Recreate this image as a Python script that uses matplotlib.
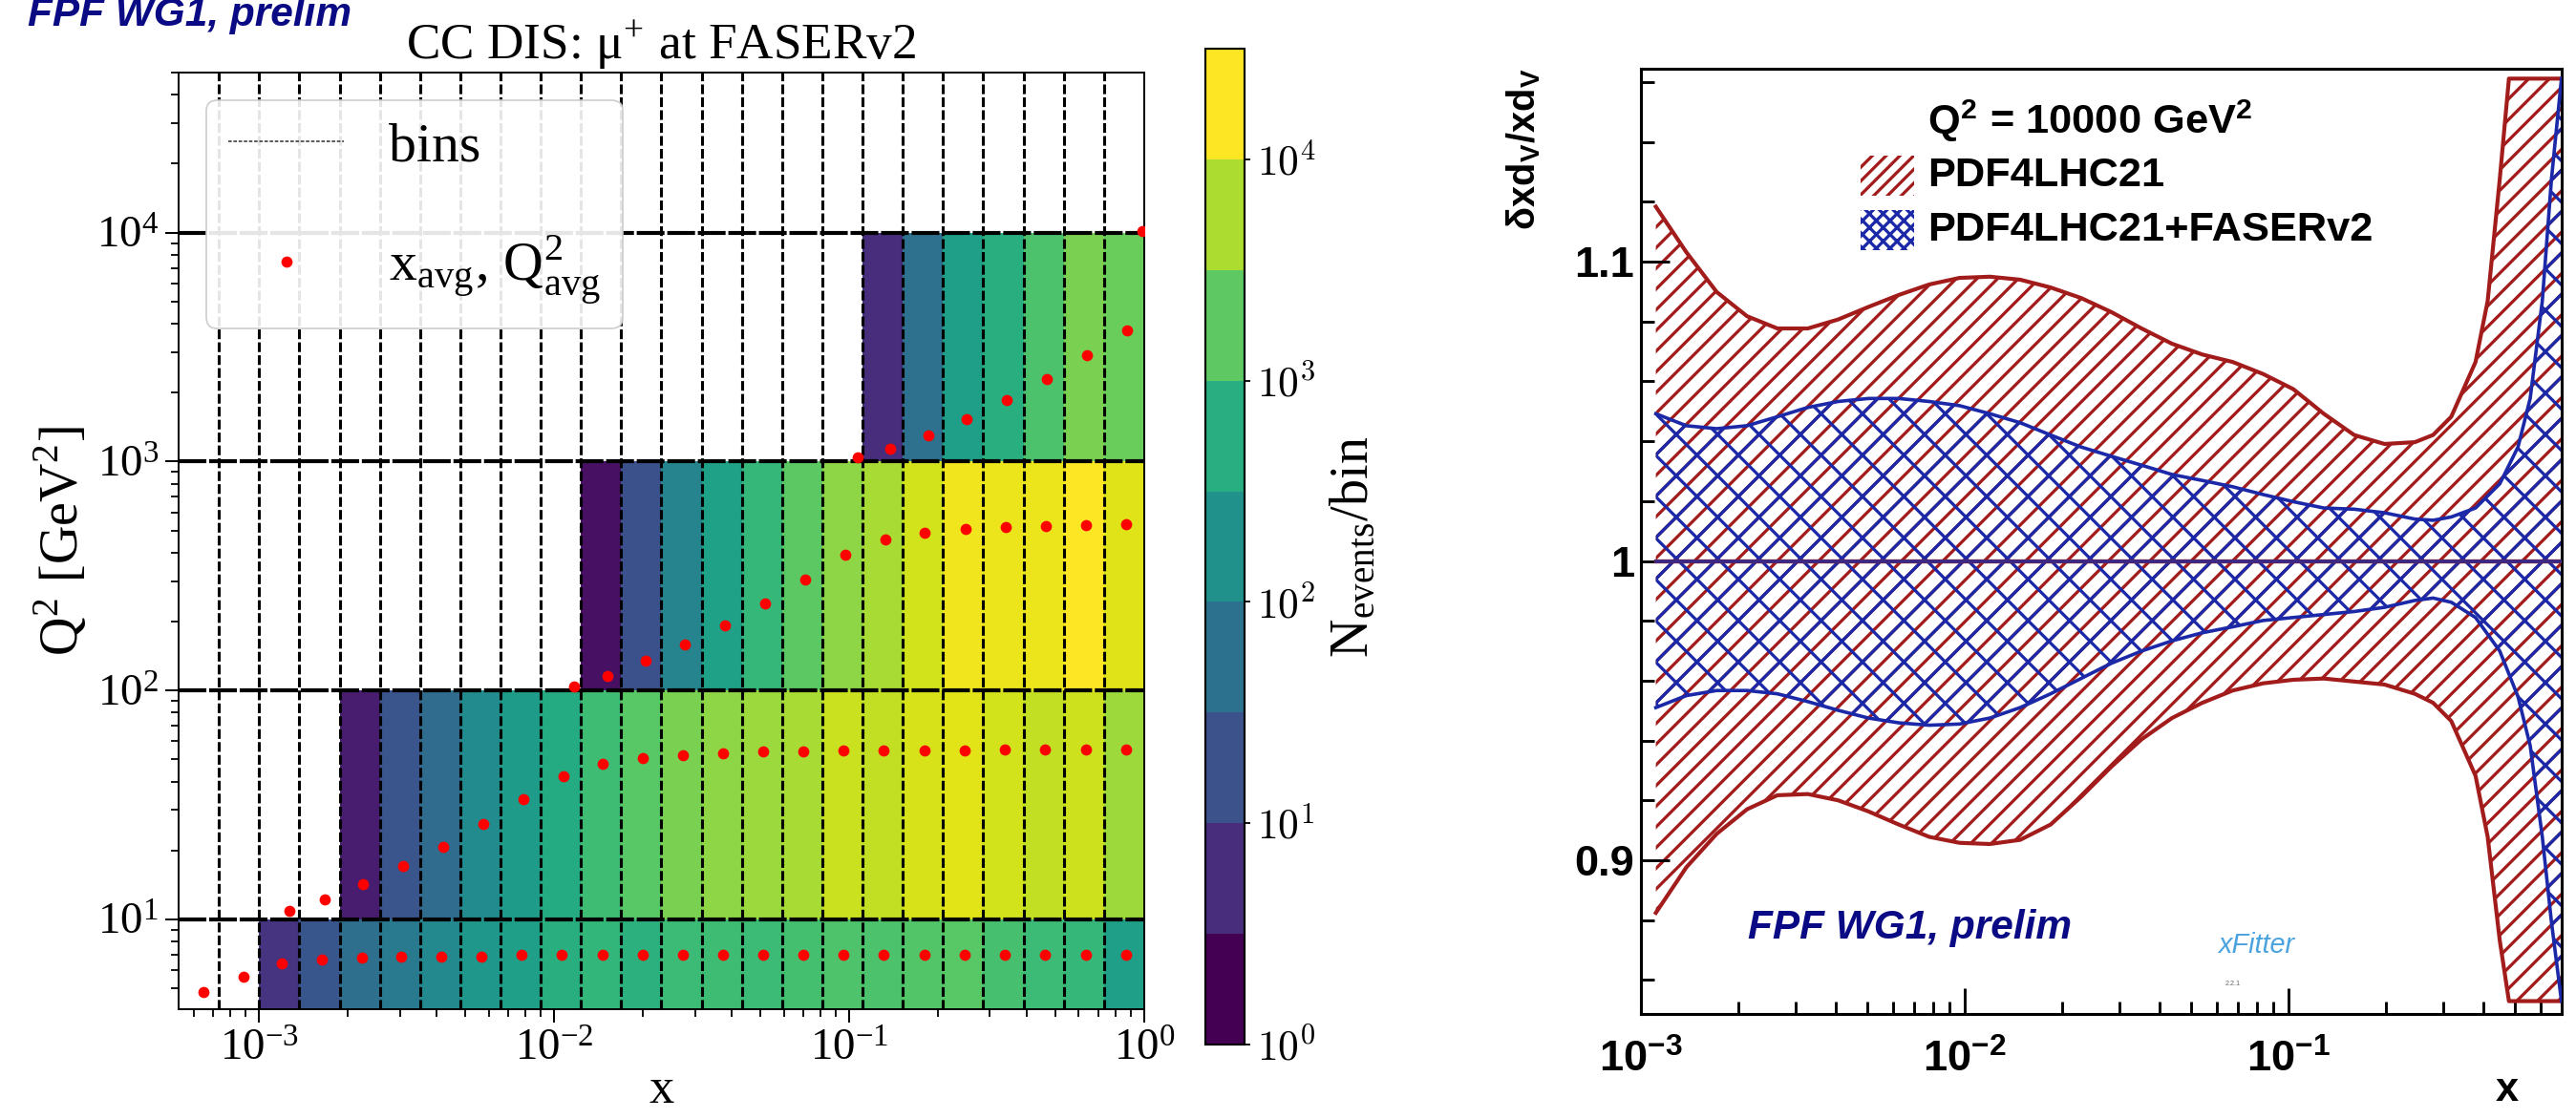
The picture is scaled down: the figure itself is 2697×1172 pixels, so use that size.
import numpy as np
import matplotlib
matplotlib.use("Agg")
import matplotlib.pyplot as plt
from matplotlib.colors import LogNorm
from matplotlib.cm import ScalarMappable
from matplotlib.lines import Line2D
from matplotlib.patches import Rectangle
from matplotlib.ticker import NullFormatter, MultipleLocator

DPI = 130
W, H = 2697, 1172

plt.rcParams["font.family"] = "Liberation Serif"
plt.rcParams["mathtext.fontset"] = "stix"
plt.rcParams["hatch.linewidth"] = 1.8

# ---------------- left panel: CC DIS binning ----------------
X_EDGES = [5.337e-4, 7.305e-4, 1.0e-3, 1.369e-3, 1.874e-3, 2.565e-3, 3.511e-3,
           4.806e-3, 6.579e-3, 9.006e-3, 1.2328e-2, 1.6876e-2, 2.310e-2,
           3.162e-2, 4.329e-2, 5.926e-2, 8.111e-2, 0.1110, 0.1520, 0.2081,
           0.2848, 0.3899, 0.5337, 0.7305, 1.0]
Q2_EDGES = [4, 10, 100, 1000, 10000]

# first filled x-bin of every Q2 row, then events per bin
ROW_START = [2, 4, 10, 17]
N_Q2_4_10 = [4.7, 16, 42, 70, 130, 243, 331, 684, 933, 759, 1148, 1274, 1148,
             1413, 1738, 1650, 1928, 2138, 1487, 1148, 983, 331]
N_Q2_10_100 = [2.3, 15, 38, 145, 299, 556, 1274, 2138, 3981, 5433, 6683, 8222,
               13800, 12450, 16980, 19840, 15310, 12450, 14540, 7040]
N_Q2_100_1000 = [1.5, 13, 106, 367, 983, 2371, 5433, 8222, 15310, 25700, 23170,
                 23170, 31000, 18840]
N_Q2_1000_10000 = [3.8, 46, 331, 684, 1650, 3981, 2917]

XAVG_ROW1 = [6.49e-4, 8.88e-4, 1.194e-3, 1.633e-3, 2.228e-3, 3.039e-3, 4.146e-3,
             5.67e-3, 7.75e-3, 1.063e-2, 1.458e-2, 2.002e-2, 2.738e-2, 3.746e-2,
             5.123e-2, 7.007e-2, 9.58e-2, 0.1310, 0.1797, 0.2458, 0.3377, 0.4619,
             0.6336, 0.8662]
QAVG_ROW1 = [4.8, 5.6, 6.4, 6.7, 6.8, 6.9, 6.9, 6.9, 7.0, 7.0, 7.0, 7.0, 7.0, 7.0,
             7.0, 7.0, 7.0, 7.0, 7.0, 7.0, 7.0, 7.0, 7.0, 7.0]
XAVG_ROW2 = [1.270e-3, 1.673e-3, 2.249e-3, 3.083e-3, 4.199e-3, 5.754e-3, 7.85e-3,
             1.074e-2, 1.461e-2, 2.002e-2, 2.738e-2, 3.746e-2, 5.123e-2, 7.007e-2,
             9.58e-2, 0.1310, 0.1797, 0.2458, 0.3377, 0.4619, 0.6336, 0.8662]
QAVG_ROW2 = [10.9, 12.2, 14.2, 17.1, 20.8, 26.1, 33.4, 42.3, 47.9, 50.6, 52.2,
             53.1, 53.9, 54.1, 54.5, 54.6, 54.8, 54.8, 55.0, 55.0, 55.0, 55.0]
XAVG_ROW3 = [1.164e-2, 1.517e-2, 2.043e-2, 2.783e-2, 3.789e-2, 5.185e-2, 7.09e-2,
             9.70e-2, 0.1327, 0.1806, 0.2472, 0.3381, 0.4628, 0.6327, 0.8662]
QAVG_ROW3 = [104, 116, 135, 158, 192, 240, 304, 390, 456, 487, 505, 515, 521,
             526, 530]
XAVG_ROW4 = [0.1070, 0.1380, 0.1852, 0.2508, 0.3415, 0.4674, 0.6389, 0.8747, 0.985]
QAVG_ROW4 = [1040, 1135, 1300, 1530, 1850, 2300, 2900, 3730, 10140]

CB_TICKS = [1, 10, 100, 1000, 10000]

# ---------------- right panel: dV uncertainty bands ----------------
RED_X = [1.112e-3, 1.381e-3, 1.714e-3, 2.127e-3, 2.640e-3, 3.277e-3, 4.066e-3,
         5.045e-3, 6.261e-3, 7.772e-3, 9.645e-3, 1.1967e-2, 1.485e-2, 1.843e-2,
         2.287e-2, 2.838e-2, 3.522e-2, 4.371e-2, 5.425e-2, 6.732e-2, 8.354e-2,
         0.1037, 0.1287, 0.1597, 0.1982, 0.2460, 0.2800, 0.3187, 0.3788, 0.4129,
         0.4500, 0.4803, 0.698]
RED_UP = [1.1184, 1.1032, 1.0899, 1.0818, 1.0777, 1.0777, 1.0807, 1.0849, 1.0889,
          1.0924, 1.0946, 1.0950, 1.0940, 1.0914, 1.0879, 1.0832, 1.0777, 1.0726,
          1.0690, 1.0665, 1.0625, 1.0574, 1.0492, 1.0421, 1.0391, 1.0397, 1.0421,
          1.0482, 1.0665, 1.0869, 1.1276, 1.1612, 1.1612]
RED_LO = [0.8824, 0.8976, 0.9088, 0.9170, 0.9217, 0.9221, 0.9200, 0.9163, 0.9119,
          0.9078, 0.9058, 0.9054, 0.9068, 0.9119, 0.9211, 0.9312, 0.9404, 0.9475,
          0.9526, 0.9567, 0.9591, 0.9603, 0.9607, 0.9597, 0.9587, 0.9556, 0.9526,
          0.9465, 0.9282, 0.9078, 0.8732, 0.8529, 0.8529]
BLUE_X = [1.112e-3, 1.381e-3, 1.714e-3, 2.127e-3, 2.640e-3, 3.277e-3, 4.066e-3,
          5.045e-3, 6.261e-3, 7.772e-3, 9.645e-3, 1.1967e-2, 1.485e-2, 1.843e-2,
          2.287e-2, 2.838e-2, 3.522e-2, 4.371e-2, 5.425e-2, 6.732e-2, 8.354e-2,
          0.1037, 0.1287, 0.1597, 0.1982, 0.2460, 0.2800, 0.3187, 0.3788, 0.4500,
          0.5125, 0.5587, 0.6091, 0.6500, 0.698]
BLUE_UP = [1.0492, 1.0452, 1.0442, 1.0452, 1.0482, 1.0513, 1.0533, 1.0543, 1.0543,
           1.0533, 1.0519, 1.0492, 1.0462, 1.0421, 1.0381, 1.0350, 1.0320, 1.0289,
           1.0269, 1.0248, 1.0222, 1.0198, 1.0177, 1.0173, 1.0161, 1.0140, 1.0136,
           1.0147, 1.0177, 1.0258, 1.0381, 1.0543, 1.0869, 1.1276, 1.1612]
BLUE_LO = [0.9510, 0.9550, 0.9567, 0.9567, 0.9556, 0.9530, 0.9501, 0.9475, 0.9459,
           0.9451, 0.9455, 0.9475, 0.9510, 0.9556, 0.9607, 0.9658, 0.9699, 0.9733,
           0.9760, 0.9780, 0.9801, 0.9811, 0.9821, 0.9831, 0.9845, 0.9868, 0.9876,
           0.9862, 0.9811, 0.9699, 0.9546, 0.9383, 0.9078, 0.8793, 0.8529]

RED = "#a31c1c"
BLUE = "#1b28a8"
NAVY = "#0a0a85"
SANS = "Liberation Sans"


def fig_rect(x0, y0, x1, y1):
    # pixel box (top-left origin) -> figure fraction [left, bottom, width, height]
    return [x0 / W, 1 - y1 / H, (x1 - x0) / W, (y1 - y0) / H]


fig = plt.figure(figsize=(W / DPI, H / DPI), dpi=DPI)

# ---------------- left panel ----------------
ax = fig.add_axes(fig_rect(187, 76, 1198, 1057))
grid = np.full((len(Q2_EDGES) - 1, len(X_EDGES) - 1), np.nan)
for r, (start, vals) in enumerate(zip(ROW_START, [N_Q2_4_10, N_Q2_10_100,
                                                   N_Q2_100_1000, N_Q2_1000_10000])):
    grid[r, start:start + len(vals)] = vals
norm = LogNorm(vmin=1, vmax=10 ** 4.5)
ax.pcolormesh(X_EDGES, Q2_EDGES, np.ma.masked_invalid(grid), cmap="viridis",
              norm=norm, zorder=1)

for xe in X_EDGES[1:-1]:
    ax.axvline(xe, color="k", lw=1.7, ls=(0, (3.3, 1.1)), zorder=2)
for qe in Q2_EDGES[1:]:
    ax.axhline(qe, color="k", lw=2.3, ls=(0, (7, 0.7)), zorder=2)

for xs, qs in [(XAVG_ROW1, QAVG_ROW1), (XAVG_ROW2, QAVG_ROW2),
               (XAVG_ROW3, QAVG_ROW3), (XAVG_ROW4, QAVG_ROW4)]:
    ax.plot(xs, qs, "o", color="red", ms=6.5, mec="none", ls="none", zorder=3)

ax.set_xscale("log")
ax.set_yscale("log")
ax.set_xlim(X_EDGES[0], X_EDGES[-1])
ax.set_ylim(4.05, 5.0e4)
ax.xaxis.set_minor_formatter(NullFormatter())
ax.yaxis.set_minor_formatter(NullFormatter())
ax.tick_params(which="major", labelsize=26, length=7.5, width=1.1, pad=4)
ax.tick_params(which="minor", length=4.2, width=1.0)
for s in ax.spines.values():
    s.set_linewidth(1.1)
ax.set_xlabel("x", fontsize=29)
ax.xaxis.set_label_coords(0.5, -0.062)
ax.set_ylabel("Q$^\\mathdefault{2}$ [GeV$^\\mathdefault{2}$]", fontsize=31, labelpad=4)
ax.set_title("CC DIS: μ$^\\mathdefault{+}$ at FASERv2", fontsize=29.5, pad=6)

bins_h = Line2D([], [], color="0.3", lw=1.0, ls=(0, (2, 1)))
dots_h = Line2D([], [], color="red", marker="o", ms=6.5, mec="none", ls="none")
ax.legend([bins_h, dots_h],
          ["bins", "x$_\\mathdefault{avg}$, Q$^\\mathdefault{2}_\\mathdefault{avg}$"],
          loc="upper left", fontsize=32, borderaxespad=0.5, handlelength=2.1,
          labelspacing=1.1, framealpha=0.9)

# colorbar with 9 half-decade bands
cax = fig.add_axes(fig_rect(1262, 51, 1303, 1094))
sm = ScalarMappable(norm=LogNorm(vmin=1, vmax=10 ** 4.5),
                    cmap=matplotlib.colormaps["viridis"].resampled(9))
cb = fig.colorbar(sm, cax=cax)
cb.ax.minorticks_off()
cb.set_ticks(CB_TICKS, labels=[f"$10^{{{int(np.log10(t))}}}$" for t in CB_TICKS],
             fontsize=24, math_fontfamily="cm")
cb.ax.tick_params(length=3.5, width=1.0)
cb.outline.set_linewidth(1.2)
cb.set_label("N$_\\mathdefault{events}$/bin", fontsize=31, labelpad=8)

fig.text(29 / W, 1 - 27 / H, "FPF WG1, prelim", fontsize=23.5, family=SANS,
         weight="bold", style="italic", color=NAVY, va="baseline", ha="left")

# ---------------- right panel ----------------
ax2 = fig.add_axes(fig_rect(1718, 72, 2682, 1062))
ax2.set_xscale("log")
ax2.set_xlim(1e-3, 0.699)
ax2.set_ylim(0.8486, 1.1645)

ax2.fill_between(RED_X, RED_LO, RED_UP, facecolor="none", edgecolor=RED,
                 hatch="//", lw=0, zorder=1)
ax2.fill_between(BLUE_X, BLUE_LO, BLUE_UP, facecolor="none", edgecolor=BLUE,
                 hatch="x", lw=0, zorder=2)
ax2.plot(RED_X, RED_UP, color=RED, lw=2.3, zorder=3)
ax2.plot(RED_X, RED_LO, color=RED, lw=2.3, zorder=3)
ax2.plot([RED_X[0], RED_X[-1]], [1, 1], color=RED, lw=2.4, zorder=3)
ax2.plot(BLUE_X, BLUE_UP, color=BLUE, lw=2.0, zorder=4)
ax2.plot(BLUE_X, BLUE_LO, color=BLUE, lw=2.0, zorder=4)
ax2.plot([BLUE_X[0], BLUE_X[-1]], [1, 1], color="#3a2a88", lw=2.0, zorder=4)

ax2.set_xticks([1e-3, 1e-2, 1e-1],
               [r"$\mathdefault{10^{-3}}$", r"$\mathdefault{10^{-2}}$",
                r"$\mathdefault{10^{-1}}$"],
               fontsize=25, fontweight="bold", family=SANS)
ax2.xaxis.set_minor_formatter(NullFormatter())
ax2.set_yticks([0.9, 1.0, 1.1], ["0.9", "1", "1.1"], fontsize=25,
               fontweight="bold", family=SANS)
ax2.yaxis.set_minor_locator(MultipleLocator(0.02))
ax2.tick_params(which="both", direction="in", top=False, right=False, width=1.6)
ax2.tick_params(axis="x", which="major", length=15, pad=15)
ax2.tick_params(axis="x", which="minor", length=7.2)
ax2.tick_params(axis="y", which="major", length=16.5, pad=4)
ax2.tick_params(axis="y", which="minor", length=7.8)
for s in ax2.spines.values():
    s.set_linewidth(1.7)

fig.text(1596 / W, 1 - 71 / H, "δxd$_\\mathdefault{V}$/xd$_\\mathdefault{V}$",
         rotation=90, ha="center", va="top", fontsize=22, family=SANS,
         weight="bold")
fig.text(2625 / W, 1 - 1142 / H, "x", ha="center", va="center", fontsize=24,
         family=SANS, weight="bold")

# legend, ROOT style
fig.text(2018 / W, 1 - 127 / H, "Q$^\\mathdefault{2}$ = 10000 GeV$^\\mathdefault{2}$",
         ha="left", va="center", fontsize=24, family=SANS, weight="bold")
for color, hatch, label, yc in [(RED, "///", "PDF4LHC21", 184),
                                (BLUE, "xxx", "PDF4LHC21+FASERv2", 241)]:
    fig.add_artist(Rectangle((1948 / W, 1 - (yc + 21) / H), 56 / W, 42 / H,
                             transform=fig.transFigure, facecolor="none",
                             edgecolor=color, hatch=hatch, lw=0))
    fig.text(2018 / W, 1 - yc / H, label, ha="left", va="center", fontsize=24,
             family=SANS, weight="bold")

fig.text(1830 / W, 1 - 972 / H, "FPF WG1, prelim", ha="left", va="center",
         fontsize=23.5, family=SANS, weight="bold", style="italic", color=NAVY)
fig.text(2362 / W, 1 - 990 / H, "xFitter", ha="center", va="center", fontsize=16,
         family=SANS, style="italic", color="#4aa3df")
fig.text(2338 / W, 1 - 1030 / H, "2.2.1", ha="center", va="center", fontsize=4,
         family=SANS, color="0.4")

fig.savefig("out.png", dpi=DPI)
